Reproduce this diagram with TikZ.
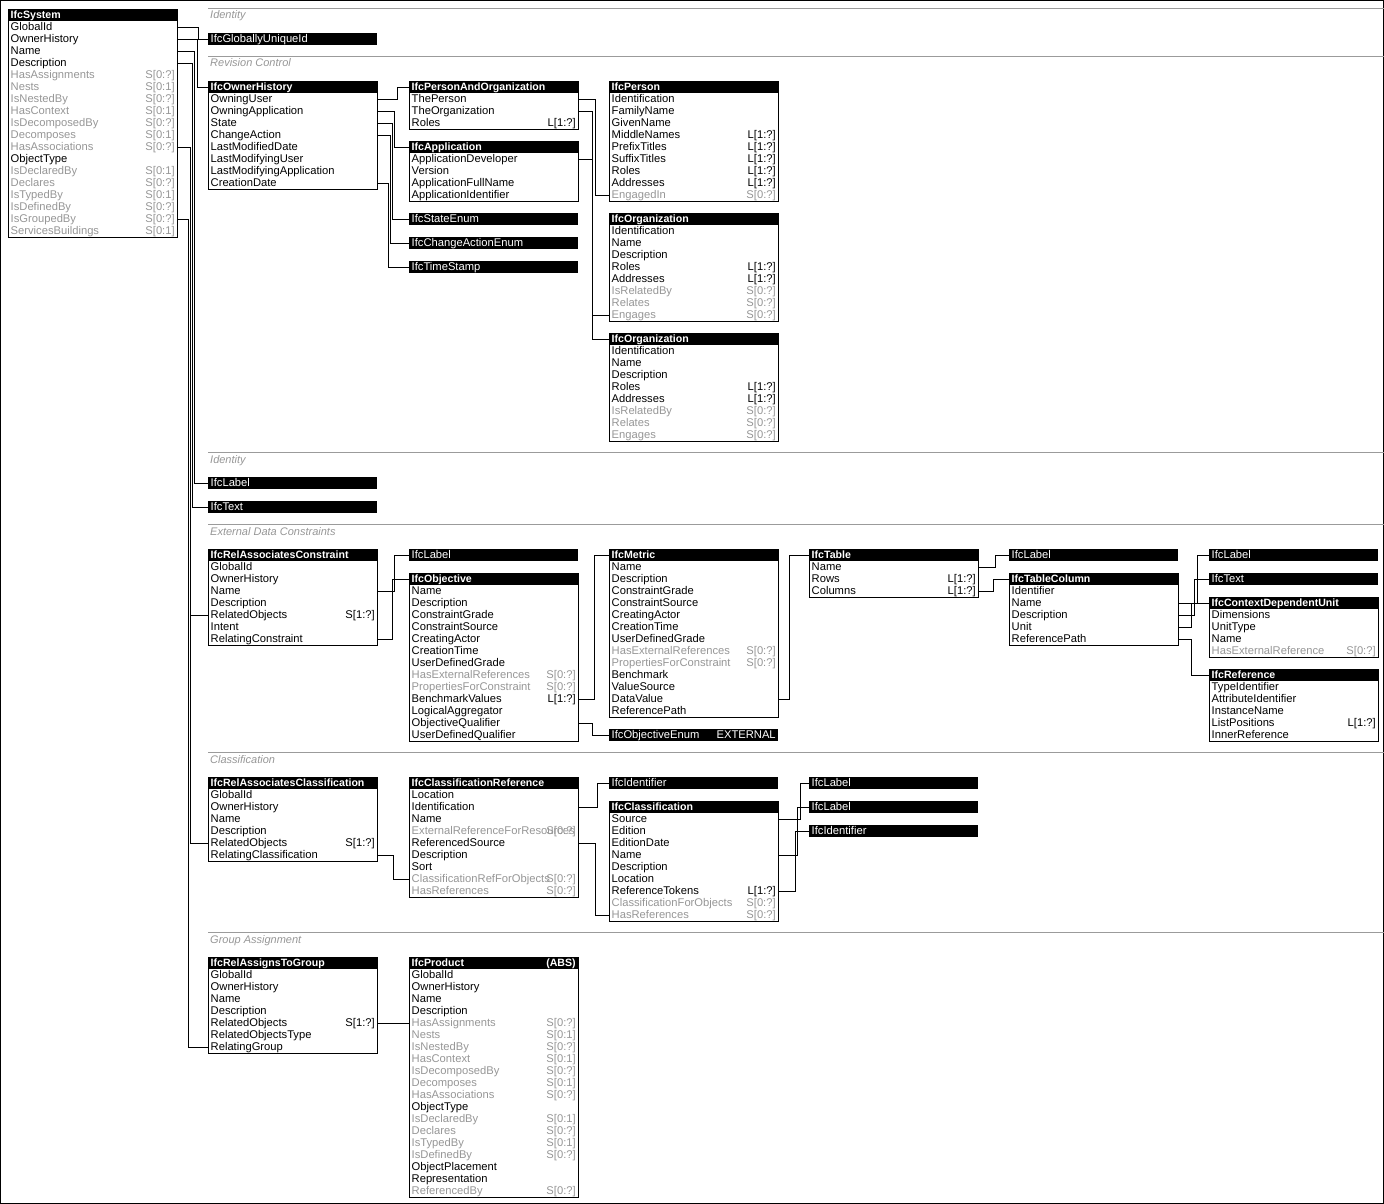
\documentclass[tikz,border=0pt]{standalone}
\usepackage{fontspec}
\setmainfont{Liberation Sans}
\definecolor{ink}{RGB}{0,0,0}
\definecolor{fade}{RGB}{150,150,150}
\definecolor{rulegray}{RGB}{155,155,155}

\begin{document}
\begin{tikzpicture}[x=1pt,y=-1pt]
    \def\rowtxt#1#2{\makebox[164pt][l]{#1}\llap{#2}}

    \tikzstyle{ebox}=[draw=black,line width=1pt,minimum width=169pt,inner sep=0pt,anchor=north west]
    \tikzstyle{etitle}=[fill=black,text=white,minimum width=169pt,minimum height=12pt,inner sep=0pt,text height=9pt,text depth=2pt,anchor=north west,font=\fontsize{10.6}{12}\selectfont\bfseries]
    \tikzstyle{erow}=[minimum width=169pt,minimum height=12pt,inner sep=0pt,text height=9pt,text depth=2pt,anchor=north west,font=\fontsize{11.2}{12}\selectfont]
    \tikzstyle{bar}=[etitle,font=\fontsize{11.2}{12}\selectfont]
    \tikzstyle{section}=[text=fade,anchor=base west,inner sep=0pt,font=\fontsize{11}{12}\selectfont\itshape]
    \tikzstyle{sepline}=[draw=rulegray,line width=1pt]
    \tikzstyle{wire}=[draw=black,line width=1pt]

    % entity: name, x, top, rows, title, right title, rows text/mult/colour
    \def\entity#1#2#3#4#5#6#7{
        \node[ebox,minimum height={(#4+1)*12pt}] (#1-box) at (#2,#3) {};
        \node[etitle] (#1) at (#2,#3) {\rowtxt{#5}{#6}};
        \foreach \lbl/\mlt/\clr [count=\i] in {#7}
            \node[erow,text=\clr] (#1-\i) at (#2,#3+12*\i) {\rowtxt{\lbl}{\mlt}};
    }

    \useasboundingbox (0,0) rectangle (1384,1204);
    \draw[line width=1pt] (0.5,0.5) rectangle (1383.5,1203.5);

    % sections
    \draw[sepline] (208,8.5) -- (1384,8.5);
    \node[section] (sec1) at (210,19) {Identity};
    \draw[sepline] (208,56.5) -- (1384,56.5);
    \node[section] (sec2) at (210,67) {Revision Control};
    \draw[sepline] (208,452.5) -- (1384,452.5);
    \node[section] (sec3) at (210,463) {Identity};
    \draw[sepline] (208,524.5) -- (1384,524.5);
    \node[section] (sec4) at (210,535) {External Data Constraints};
    \draw[sepline] (208,752.5) -- (1384,752.5);
    \node[section] (sec5) at (210,763) {Classification};
    \draw[sepline] (208,932.5) -- (1384,932.5);
    \node[section] (sec6) at (210,943) {Group Assignment};

    \entity{sys}{8}{9}{18}{IfcSystem}{}{GlobalId//ink, OwnerHistory//ink, Name//ink, Description//ink,
        HasAssignments/{S[0:?]}/fade, Nests/{S[0:1]}/fade, IsNestedBy/{S[0:?]}/fade, HasContext/{S[0:1]}/fade,
        IsDecomposedBy/{S[0:?]}/fade, Decomposes/{S[0:1]}/fade, HasAssociations/{S[0:?]}/fade, ObjectType//ink,
        IsDeclaredBy/{S[0:1]}/fade, Declares/{S[0:?]}/fade, IsTypedBy/{S[0:1]}/fade, IsDefinedBy/{S[0:?]}/fade,
        IsGroupedBy/{S[0:?]}/fade, ServicesBuildings/{S[0:1]}/fade}

    % identity
    \node[bar] (guid) at (208,33) {\rowtxt{IfcGloballyUniqueId}{}};

    % revision control
    \entity{oh}{208}{81}{8}{IfcOwnerHistory}{}{OwningUser//ink, OwningApplication//ink, State//ink, ChangeAction//ink,
        LastModifiedDate//ink, LastModifyingUser//ink, LastModifyingApplication//ink, CreationDate//ink}
    \entity{pao}{409}{81}{3}{IfcPersonAndOrganization}{}{ThePerson//ink, TheOrganization//ink, Roles/{L[1:?]}/ink}
    \entity{app}{409}{141}{4}{IfcApplication}{}{ApplicationDeveloper//ink, Version//ink, ApplicationFullName//ink, ApplicationIdentifier//ink}
    \node[bar] (senum) at (409,213) {\rowtxt{IfcStateEnum}{}};
    \node[bar] (caenum) at (409,237) {\rowtxt{IfcChangeActionEnum}{}};
    \node[bar] (stamp) at (409,261) {\rowtxt{IfcTimeStamp}{}};
    \entity{per}{609}{81}{9}{IfcPerson}{}{Identification//ink, FamilyName//ink, GivenName//ink, MiddleNames/{L[1:?]}/ink,
        PrefixTitles/{L[1:?]}/ink, SuffixTitles/{L[1:?]}/ink, Roles/{L[1:?]}/ink, Addresses/{L[1:?]}/ink, EngagedIn/{S[0:?]}/fade}
    \entity{orga}{609}{213}{8}{IfcOrganization}{}{Identification//ink, Name//ink, Description//ink, Roles/{L[1:?]}/ink,
        Addresses/{L[1:?]}/ink, IsRelatedBy/{S[0:?]}/fade, Relates/{S[0:?]}/fade, Engages/{S[0:?]}/fade}
    \entity{orgb}{609}{333}{8}{IfcOrganization}{}{Identification//ink, Name//ink, Description//ink, Roles/{L[1:?]}/ink,
        Addresses/{L[1:?]}/ink, IsRelatedBy/{S[0:?]}/fade, Relates/{S[0:?]}/fade, Engages/{S[0:?]}/fade}

    % identity
    \node[bar] (lbl1) at (208,477) {\rowtxt{IfcLabel}{}};
    \node[bar] (txt1) at (208,501) {\rowtxt{IfcText}{}};

    % external data constraints
    \entity{rac}{208}{549}{7}{IfcRelAssociatesConstraint}{}{GlobalId//ink, OwnerHistory//ink, Name//ink, Description//ink,
        RelatedObjects/{S[1:?]}/ink, Intent//ink, RelatingConstraint//ink}
    \node[bar] (lbl2) at (409,549) {\rowtxt{IfcLabel}{}};
    \entity{obj}{409}{573}{13}{IfcObjective}{}{Name//ink, Description//ink, ConstraintGrade//ink, ConstraintSource//ink,
        CreatingActor//ink, CreationTime//ink, UserDefinedGrade//ink, HasExternalReferences/{S[0:?]}/fade,
        PropertiesForConstraint/{S[0:?]}/fade, BenchmarkValues/{L[1:?]}/ink, LogicalAggregator//ink,
        ObjectiveQualifier//ink, UserDefinedQualifier//ink}
    \entity{met}{609}{549}{13}{IfcMetric}{}{Name//ink, Description//ink, ConstraintGrade//ink, ConstraintSource//ink,
        CreatingActor//ink, CreationTime//ink, UserDefinedGrade//ink, HasExternalReferences/{S[0:?]}/fade,
        PropertiesForConstraint/{S[0:?]}/fade, Benchmark//ink, ValueSource//ink, DataValue//ink, ReferencePath//ink}
    \node[bar] (oenum) at (609,729) {\rowtxt{IfcObjectiveEnum}{EXTERNAL}};
    \entity{tab}{809}{549}{3}{IfcTable}{}{Name//ink, Rows/{L[1:?]}/ink, Columns/{L[1:?]}/ink}
    \node[bar] (lbl3) at (1009,549) {\rowtxt{IfcLabel}{}};
    \entity{col}{1009}{573}{5}{IfcTableColumn}{}{Identifier//ink, Name//ink, Description//ink, Unit//ink, ReferencePath//ink}
    \node[bar] (lbl4) at (1209,549) {\rowtxt{IfcLabel}{}};
    \node[bar] (txt2) at (1209,573) {\rowtxt{IfcText}{}};
    \entity{cdu}{1209}{597}{4}{IfcContextDependentUnit}{}{Dimensions//ink, UnitType//ink, Name//ink, HasExternalReference/{S[0:?]}/fade}
    \entity{ref}{1209}{669}{5}{IfcReference}{}{TypeIdentifier//ink, AttributeIdentifier//ink, InstanceName//ink,
        ListPositions/{L[1:?]}/ink, InnerReference//ink}

    % classification
    \entity{racl}{208}{777}{6}{IfcRelAssociatesClassification}{}{GlobalId//ink, OwnerHistory//ink, Name//ink, Description//ink,
        RelatedObjects/{S[1:?]}/ink, RelatingClassification//ink}
    \entity{cref}{409}{777}{9}{IfcClassificationReference}{}{Location//ink, Identification//ink, Name//ink,
        ExternalReferenceForResources/{S[0:?]}/fade, ReferencedSource//ink, Description//ink, Sort//ink,
        ClassificationRefForObjects/{S[0:?]}/fade, HasReferences/{S[0:?]}/fade}
    \node[bar] (idf1) at (609,777) {\rowtxt{IfcIdentifier}{}};
    \entity{cls}{609}{801}{9}{IfcClassification}{}{Source//ink, Edition//ink, EditionDate//ink, Name//ink, Description//ink,
        Location//ink, ReferenceTokens/{L[1:?]}/ink, ClassificationForObjects/{S[0:?]}/fade, HasReferences/{S[0:?]}/fade}
    \node[bar] (lbl5) at (809,777) {\rowtxt{IfcLabel}{}};
    \node[bar] (lbl6) at (809,801) {\rowtxt{IfcLabel}{}};
    \node[bar] (idf2) at (809,825) {\rowtxt{IfcIdentifier}{}};

    % group assignment
    \entity{rag}{208}{957}{7}{IfcRelAssignsToGroup}{}{GlobalId//ink, OwnerHistory//ink, Name//ink, Description//ink,
        RelatedObjects/{S[1:?]}/ink, RelatedObjectsType//ink, RelatingGroup//ink}
    \entity{prod}{409}{957}{19}{IfcProduct}{(ABS)}{GlobalId//ink, OwnerHistory//ink, Name//ink, Description//ink,
        HasAssignments/{S[0:?]}/fade, Nests/{S[0:1]}/fade, IsNestedBy/{S[0:?]}/fade, HasContext/{S[0:1]}/fade,
        IsDecomposedBy/{S[0:?]}/fade, Decomposes/{S[0:1]}/fade, HasAssociations/{S[0:?]}/fade, ObjectType//ink,
        IsDeclaredBy/{S[0:1]}/fade, Declares/{S[0:?]}/fade, IsTypedBy/{S[0:1]}/fade, IsDefinedBy/{S[0:?]}/fade,
        ObjectPlacement//ink, Representation//ink, ReferencedBy/{S[0:?]}/fade}

    % links
    \draw[wire] (sys-1.east) -- ++(21,0) |- (guid.west);
    \draw[wire] (sys-2.east) -- ++(20,0) |- (oh.west);
    \draw[wire] (sys-3.east) -- ++(17,0) |- (lbl1.west);
    \draw[wire] (sys-4.east) -- ++(15,0) |- (txt1.west);
    \draw[wire] (sys-11.east) -- ++(13,0) |- (rac-5.west);
    \draw[wire] (sys-11.east) -- ++(13,0) |- (racl-5.west);
    \draw[wire] (sys-17.east) -- ++(11,0) |- (rag-7.west);

    \draw[wire] (oh-1.east) -- ++(20,0) |- (pao.west);
    \draw[wire] (oh-2.east) -- ++(17,0) |- (app.west);
    \draw[wire] (oh-3.east) -- ++(15,0) |- (senum.west);
    \draw[wire] (oh-4.east) -- ++(13,0) |- (caenum.west);
    \draw[wire] (oh-8.east) -- ++(11,0) |- (stamp.west);
    \draw[wire] (pao-1.east) -- ++(17,0) |- (per-9.west);
    \draw[wire] (pao-2.east) -- ++(14,0) |- (orga-8.west);
    \draw[wire] (app-1.east) -- ++(14,0) |- (orgb.west);

    \draw[wire] (rac-3.east) -- ++(17,0) |- (lbl2.west);
    \draw[wire] (rac-7.east) -- ++(15,0) |- (obj.west);
    \draw[wire] (obj-10.east) -- ++(16,0) |- (met.west);
    \draw[wire] (obj-12.east) -- ++(14,0) |- (oenum.west);
    \draw[wire] (met-12.east) -- ++(11,0) |- (tab.west);
    \draw[wire] (tab-1.east) -- ++(17,0) |- (lbl3.west);
    \draw[wire] (tab-3.east) -- ++(15,0) |- (col.west);
    \draw[wire] (col-2.east) -- ++(19,0) |- (lbl4.west);
    \draw[wire] (col-3.east) -- ++(16,0) |- (txt2.west);
    \draw[wire] (col-4.east) -- ++(13,0) |- (cdu.west);
    \draw[wire] (col-5.east) -- ++(13,0) |- (ref.west);

    \draw[wire] (racl-6.east) -- ++(16,0) |- (cref-8.west);
    \draw[wire] (cref-2.east) -- ++(19,0) |- (idf1.west);
    \draw[wire] (cref-5.east) -- ++(17,0) |- (cls-9.west);
    \draw[wire] (cls-1.east) -- ++(22,0) |- (lbl5.west);
    \draw[wire] (cls-4.east) -- ++(19,0) |- (lbl6.west);
    \draw[wire] (cls-7.east) -- ++(17,0) |- (idf2.west);

    \draw[wire] (rag-5.east) -- (prod-5.west);
\end{tikzpicture}
\end{document}
